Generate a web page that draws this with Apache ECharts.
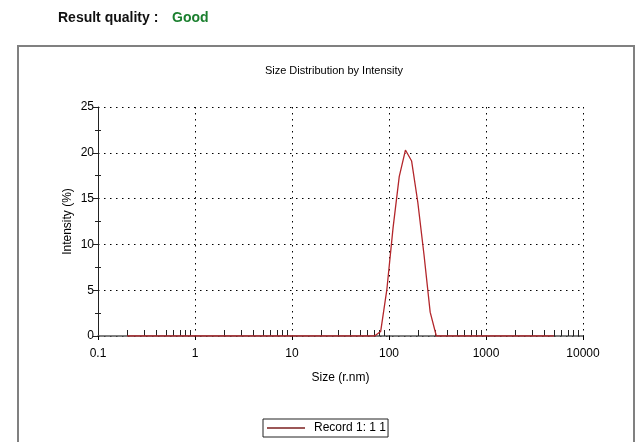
<!DOCTYPE html>
<html>
<head>
<meta charset="utf-8">
<script src="https://cdn.jsdelivr.net/npm/echarts@6/dist/echarts.min.js"></script>
<style>
  html, body { margin: 0; padding: 0; background: #fff; }
  #chart { width: 635px; height: 442px; }
</style>
</head>
<body>
<div id="chart"></div>
<script>
// Size bins (radius, nm)
const sizes = [0.2, 0.2316, 0.2683, 0.3107, 0.3598, 0.4166, 0.4825, 0.5585, 0.647, 0.7495,
  0.868, 1.005, 1.164, 1.348, 1.561, 1.808, 2.094, 2.425, 2.808, 3.252,
  3.766, 4.361, 5.05, 5.85, 6.77, 7.845, 9.085, 10.52, 12.18, 14.11,
  16.34, 18.92, 21.91, 25.38, 29.39, 34.03, 39.41, 45.64, 52.85, 61.2,
  70.9, 82.1, 95.1, 110.1, 127.5, 147.7, 171.1, 198.1, 229.4, 265.7,
  307.7, 356.2, 412.5, 477.7, 553, 640.5, 742, 859, 995, 1153,
  1335, 1546, 1790, 2073, 2400, 2780, 3220, 3728, 4318, 5000];
// Intensity (%)
const intensity = [0, 0, 0, 0, 0, 0, 0, 0, 0, 0,
  0, 0, 0, 0, 0, 0, 0, 0, 0, 0,
  0, 0, 0, 0, 0, 0, 0, 0, 0, 0,
  0, 0, 0, 0, 0, 0, 0, 0, 0, 0,
  0, 0.5, 5.1, 11.8, 17.4, 20.3, 19.1, 14.6, 8.9, 2.6,
  0, 0, 0, 0, 0, 0, 0, 0, 0, 0,
  0, 0, 0, 0, 0, 0, 0, 0, 0, 0];
const xMinorTicks = [0.2, 0.3, 0.4, 0.5, 0.6, 0.7, 0.8, 0.9,
  2, 3, 4, 5, 6, 7, 8, 9,
  20, 30, 40, 50, 60, 70, 80, 90,
  200, 300, 400, 500, 600, 700, 800, 900,
  2000, 3000, 4000, 5000, 6000, 7000, 8000, 9000];
const yMinorTicks = [2.5, 7.5, 12.5, 17.5, 22.5];
const seriesName = 'Record 1: 1 1';
const chartTitle = 'Size Distribution by Intensity';
const xName = 'Size (r.nm)';
const yName = 'Intensity (%)';

const FONT = '"Liberation Sans", Arial, sans-serif';
const chart = echarts.init(document.getElementById('chart'), null, { renderer: 'canvas' });
const dotted = { color: '#000', width: 1, type: [1.5, 4.5] };

chart.setOption({
  animation: false,
  backgroundColor: '#fff',
  textStyle: { fontFamily: FONT },
  graphic: [
    { type: 'rect', shape: { x: 18, y: 46, width: 616, height: 420 },
      style: { fill: 'none', stroke: '#808080', lineWidth: 2 }, silent: true, z: -1 },
    { type: 'text', left: 58, top: 11,
      style: { text: 'Result quality :', font: 'bold 14px ' + FONT, fill: '#111' } },
    { type: 'text', left: 172, top: 11,
      style: { text: 'Good', font: 'bold 14px ' + FONT, fill: '#1a7f2e' } }
  ],
  title: {
    text: chartTitle, left: 329, top: 60, textAlign: 'center',
    textStyle: { fontSize: 11, fontWeight: 'normal', color: '#000', fontFamily: FONT }
  },
  legend: {
    data: [seriesName], left: 263, top: 419,
    icon: 'rect', itemWidth: 38, itemHeight: 1.5, itemGap: 8,
    padding: [3, 2, 3, 4], borderColor: '#222', borderWidth: 1,
    itemStyle: { color: '#7b1f1f' },
    textStyle: { fontSize: 12, color: '#000', fontFamily: FONT, padding: [0, 0, 0, 4] }
  },
  grid: { left: 98, right: 52, top: 107, bottom: 106, containLabel: false },
  xAxis: [
    {
      type: 'log', logBase: 10, min: 0.1, max: 10000, position: 'bottom',
      name: xName, nameLocation: 'middle', nameGap: 36,
      nameTextStyle: { fontSize: 12, color: '#000', fontFamily: FONT },
      axisLine: { lineStyle: { color: '#555', width: 1.5 } },
      axisTick: { show: true, length: 4, lineStyle: { color: '#000' } },
      axisLabel: { fontSize: 12, color: '#000', margin: 12,
        formatter: v => (v < 1 ? String(Number(v.toPrecision(1))) : String(Math.round(v))) },
      splitLine: { show: true, lineStyle: dotted },
      minorTick: { show: false }
    },
    {
      type: 'log', logBase: 10, min: 0.1, max: 10000, position: 'bottom', offset: 3,
      axisLine: { show: false },
      axisLabel: { show: false },
      splitLine: { show: false },
      axisTick: { show: true, inside: true, length: 6, customValues: xMinorTicks,
        lineStyle: { color: '#222' } }
    }
  ],
  yAxis: [
    {
      type: 'value', min: 0, max: 25, interval: 5,
      name: yName, nameLocation: 'middle', nameGap: 24, nameRotate: 90,
      nameMoveOverlap: false,
      nameTextStyle: { fontSize: 12, color: '#000', fontFamily: FONT },
      axisLine: { show: true, lineStyle: { color: '#222', width: 1 } },
      axisTick: { show: true, length: 5, lineStyle: { color: '#222' } },
      axisLabel: { fontSize: 12, color: '#000', margin: 4 },
      splitLine: { show: true, lineStyle: dotted }
    },
    {
      type: 'value', min: 0, max: 25, position: 'left', offset: 3,
      axisLine: { show: false },
      axisLabel: { show: false },
      splitLine: { show: false },
      axisTick: { show: true, inside: true, length: 6, customValues: yMinorTicks,
        lineStyle: { color: '#222' } }
    }
  ],
  series: [{
    name: seriesName, type: 'line', xAxisIndex: 0, yAxisIndex: 0,
    data: sizes.map((s, i) => [s, intensity[i]]),
    showSymbol: false, symbol: 'none',
    lineStyle: { color: '#b3262b', width: 1.3 },
    itemStyle: { color: '#7b1f1f' },
    z: 3
  }]
});
</script>
</body>
</html>
